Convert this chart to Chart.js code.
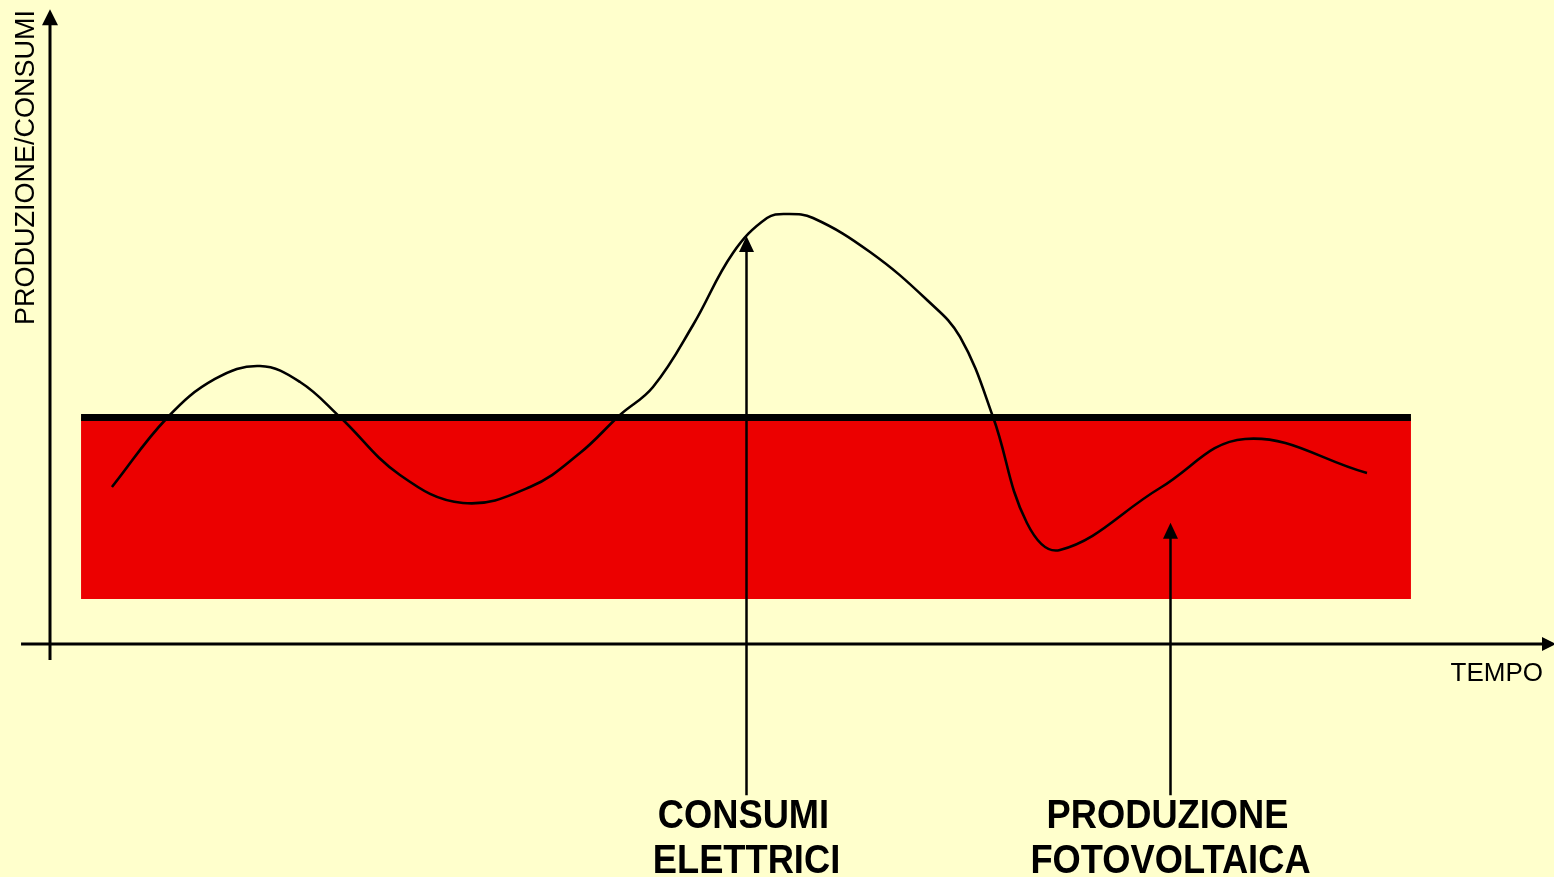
<!DOCTYPE html>
<html>
<head>
<meta charset="utf-8">
<script src="https://cdn.jsdelivr.net/npm/chart.js@4.4.1/dist/chart.umd.min.js"></script>
<style>
  html, body { margin: 0; padding: 0; background: #FFFFCC; overflow: hidden; }
  canvas { display: block; }
</style>
</head>
<body>
<canvas id="c" width="1554" height="877"></canvas>
<script>
// ---- Data (arbitrary units: tempo 0..100, produzione/consumi 0..100) ----
const consumiX = [4.13, 7.8, 11.0, 14.0, 16.67, 19.33, 23.33, 27.53, 32.0, 35.33, 38.0, 40.2, 42.87, 45.53, 47.8, 49.13, 50.87, 54.67, 58.47, 60.67, 62.87, 65.13, 67.33, 74.0, 79.67, 87.8];
const consumiY = [26.17, 37.67, 44.17, 46.33, 43.67, 37.83, 28.17, 23.5, 26.17, 31.83, 38.17, 42.83, 53.17, 65.17, 71.0, 71.67, 71.0, 65.33, 57.33, 51.17, 37.83, 20.17, 15.67, 26.0, 34.17, 28.5];

const produzioneX = [2.07, 90.73];
const produzioneY = [37.75, 37.75];
const produzioneBase = 7.5;

const axisXRange = [-1.93, 100.4];   // horizontal axis extent (x units), at y = 0
const axisYRange = [-2.67, 105.8];   // vertical axis extent (y units), at x = 0
const axisTitleY = "PRODUZIONE/CONSUMI";
const axisTitleX = "TEMPO";

const annotLabels = [["CONSUMI", "ELETTRICI"], ["PRODUZIONE", "FOTOVOLTAICA"]];
const annotX = [46.4, 74.67];
const annotTipY = [68.0, 20.2];
const annotBaseY = [-25.2, -25.2];

// ---- Build datasets ----
const consumiData = consumiX.map((x, i) => ({ x, y: consumiY[i] }));
const produzioneData = produzioneX.map((x, i) => ({ x, y: produzioneY[i] }));

const BG = '#FFFFCC';
const FONT = '"Liberation Sans", Arial, sans-serif';

function arrowHead(ctx, tipX, tipY, dir, len, half) {
  ctx.beginPath();
  if (dir === 'up') {
    ctx.moveTo(tipX, tipY);
    ctx.lineTo(tipX - half, tipY + len);
    ctx.lineTo(tipX + half, tipY + len);
  } else {
    ctx.moveTo(tipX, tipY);
    ctx.lineTo(tipX - len, tipY - half);
    ctx.lineTo(tipX - len, tipY + half);
  }
  ctx.closePath();
  ctx.fill();
}

const decor = {
  id: 'decor',
  beforeDraw(chart) {
    const ctx = chart.ctx;
    ctx.save();
    ctx.fillStyle = BG;
    ctx.fillRect(0, 0, chart.width, chart.height);
    ctx.restore();
  },
  afterDatasetsDraw(chart) {
    const ctx = chart.ctx;
    const xs = chart.scales.x, ys = chart.scales.y;
    ctx.save();
    ctx.strokeStyle = '#000';
    ctx.fillStyle = '#000';
    ctx.lineCap = 'butt';

    // Axes
    const x0 = xs.getPixelForValue(0), y0 = ys.getPixelForValue(0);
    ctx.lineWidth = 3;
    const yTop = ys.getPixelForValue(axisYRange[1]);
    ctx.beginPath();
    ctx.moveTo(x0, ys.getPixelForValue(axisYRange[0]));
    ctx.lineTo(x0, yTop + 14);
    ctx.stroke();
    arrowHead(ctx, x0, yTop, 'up', 16, 8);
    const xRight = xs.getPixelForValue(axisXRange[1]);
    ctx.beginPath();
    ctx.moveTo(xs.getPixelForValue(axisXRange[0]), y0);
    ctx.lineTo(xRight - 12, y0);
    ctx.stroke();
    arrowHead(ctx, xRight, y0, 'right', 14, 7);

    // Axis titles
    ctx.font = '26px ' + FONT;
    ctx.textAlign = 'right';
    ctx.textBaseline = 'alphabetic';
    ctx.fillText(axisTitleX, 1543, 681);
    ctx.save();
    ctx.font = '27px ' + FONT;
    ctx.translate(34, 10);
    ctx.rotate(-Math.PI / 2);
    ctx.textAlign = 'right';
    ctx.fillText(axisTitleY, 0, 0);
    ctx.restore();

    // Annotation arrows and labels
    annotX.forEach((ax, i) => {
      const px = Math.round(xs.getPixelForValue(ax)) + 0.5;
      const tip = ys.getPixelForValue(annotTipY[i]);
      const base = ys.getPixelForValue(annotBaseY[i]);
      ctx.lineWidth = 2.5;
      ctx.beginPath();
      ctx.moveTo(px, base);
      ctx.lineTo(px, tip + 12);
      ctx.stroke();
      arrowHead(ctx, px, tip, 'up', 16, 7.5);

      ctx.font = 'bold 41px ' + FONT;
      ctx.textAlign = 'center';
      annotLabels[i].forEach((t, j) => {
        ctx.save();
        ctx.translate(px - 3 + j * 3, base + 33 + j * 45);
        ctx.scale(0.885, 1);
        ctx.fillText(t, 0, 0);
        ctx.restore();
      });
    });
    ctx.restore();
  }
};

new Chart(document.getElementById('c'), {
  type: 'line',
  data: {
    datasets: [
      {
        label: 'Consumi elettrici',
        data: consumiData,
        borderColor: '#000',
        borderWidth: 2.6,
        pointRadius: 0,
        tension: 0.4,
        fill: false,
        order: 1
      },
      {
        label: 'Produzione fotovoltaica',
        data: produzioneData,
        borderColor: '#000',
        borderWidth: 7,
        backgroundColor: '#EC0000',
        pointRadius: 0,
        tension: 0,
        fill: { value: produzioneBase },
        order: 2
      }
    ]
  },
  options: {
    responsive: false,
    animation: false,
    events: [],
    layout: { padding: { left: 50, right: 4, top: 44, bottom: 233 } },
    scales: {
      x: { type: 'linear', min: 0, max: 100, display: false },
      y: { type: 'linear', min: 0, max: 100, display: false }
    },
    plugins: {
      legend: { display: false },
      tooltip: { enabled: false },
      title: { display: false }
    }
  },
  plugins: [decor]
});
</script>
</body>
</html>
